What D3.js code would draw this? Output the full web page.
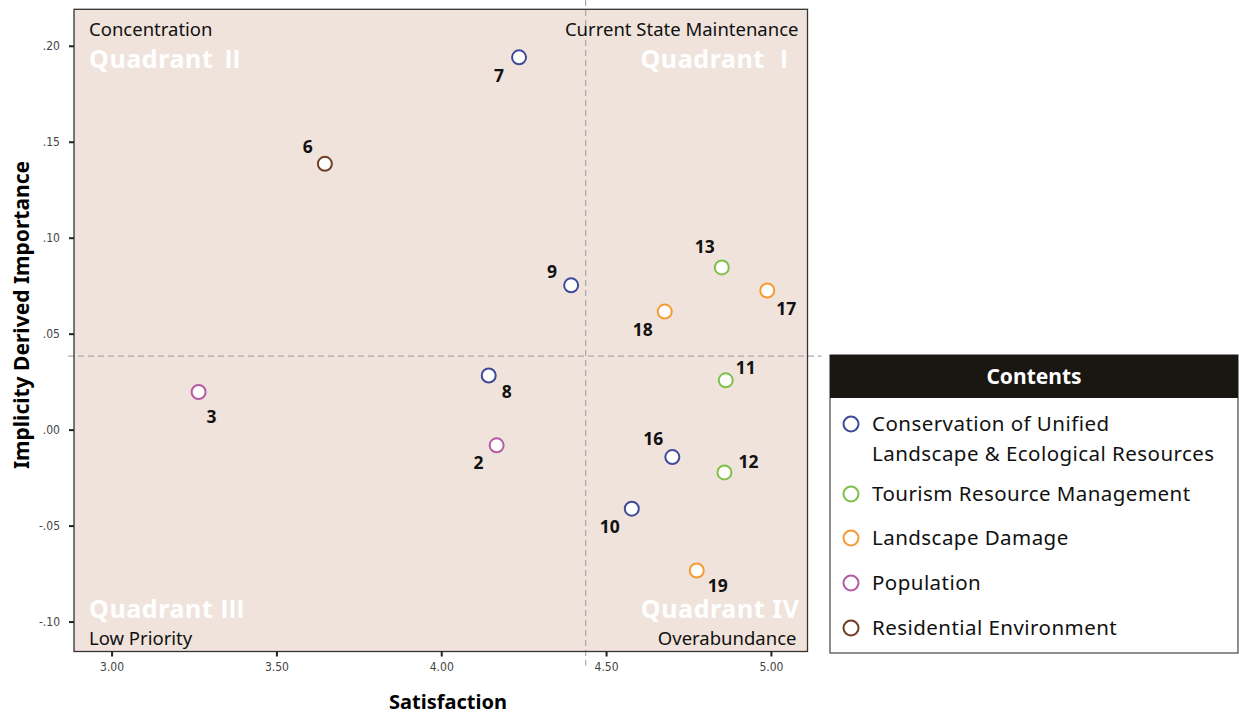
<!DOCTYPE html>
<html lang="en">
<head>
<meta charset="UTF-8">
<title>IPA Matrix</title>
<script src="https://d3js.org/d3.v7.min.js"></script>
<style>
  body { margin: 0; background: #fff; }
  svg { display: block; font-family: "Noto Sans", "Open Sans", sans-serif; }
</style>
</head>
<body>
<svg id="chart"></svg>
<script>
// ---- data ----
const ids        = ["7", "6", "9", "13", "17", "18", "8", "3", "11", "2", "16", "12", "10", "19"];
const satisfaction = [4.236, 3.647, 4.394, 4.851, 4.989, 4.678, 4.144, 3.264, 4.863, 4.168, 4.701, 4.859, 4.578, 4.775];
const importance   = [0.194, 0.1385, 0.0752, 0.0845, 0.0725, 0.0615, 0.0282, 0.0196, 0.0257, -0.0082, -0.0143, -0.0223, -0.0412, -0.0734];
const group        = [0, 4, 0, 1, 2, 2, 0, 3, 1, 3, 0, 1, 0, 2];
const categories   = ["Conservation of Unified|Landscape & Ecological Resources", "Tourism Resource Management", "Landscape Damage", "Population", "Residential Environment"];
const xTicks = [3.0, 3.5, 4.0, 4.5, 5.0];
const yTicks = [0.20, 0.15, 0.10, 0.05, 0.00, -0.05, -0.10];
const meanSatisfaction = 4.438;
const meanImportance = 0.0383;

const colors = ["#3f4a9b", "#7ec04a", "#f49b33", "#b45ca3", "#6e3f22"];
// label placement relative to each point (dx, dy)
const labelOffset = {
  "7": [-20, 18], "6": [-17, -18], "9": [-19, -14], "13": [-17, -21], "17": [19, 18],
  "18": [-22, 17], "8": [18, 15], "3": [13, 24], "11": [20, -13], "2": [-18, 17],
  "16": [-19, -19], "12": [24, -11], "10": [-22, 17], "19": [21, 14]
};

const width = 1239, height = 716;
const plot = { left: 74, right: 807.5, top: 9.3, bottom: 651.5 };

const svg = d3.select("#chart").attr("width", width).attr("height", height);

const x = d3.scaleLinear().domain([2.886, 5.111]).range([plot.left, plot.right]);
const y = d3.scaleLinear().domain([-0.1156, 0.219]).range([plot.bottom, plot.top]);

// plot background
svg.append("rect")
  .attr("x", plot.left).attr("y", plot.top)
  .attr("width", plot.right - plot.left).attr("height", plot.bottom - plot.top)
  .attr("fill", "#f0e3dc");

// mean lines
svg.append("line")
  .attr("x1", x(meanSatisfaction)).attr("x2", x(meanSatisfaction))
  .attr("y1", 0).attr("y2", plot.bottom + 14)
  .attr("stroke", "#aaa").attr("stroke-width", 1.2).attr("stroke-dasharray", "6,4");
svg.append("line")
  .attr("x1", plot.left - 6).attr("x2", plot.right + 14)
  .attr("y1", y(meanImportance)).attr("y2", y(meanImportance))
  .attr("stroke", "#aaa").attr("stroke-width", 1.2).attr("stroke-dasharray", "6,4");

// plot frame
svg.append("rect")
  .attr("x", plot.left).attr("y", plot.top)
  .attr("width", plot.right - plot.left).attr("height", plot.bottom - plot.top)
  .attr("fill", "none").attr("stroke", "#333").attr("stroke-width", 1.3);

// axes
const fmtX = d3.format(".2f");
const fmtY = v => d3.format(".2f")(v).replace("0.", ".").replace("\u2212", "-");

const xAxis = svg.append("g")
  .attr("transform", `translate(0,${plot.bottom})`)
  .call(d3.axisBottom(x).tickValues(xTicks).tickFormat(fmtX).tickSize(5).tickPadding(6));
const yAxis = svg.append("g")
  .attr("transform", `translate(${plot.left},0)`)
  .call(d3.axisLeft(y).tickValues(yTicks).tickFormat(fmtY).tickSize(5).tickPadding(9));

[xAxis, yAxis].forEach(g => {
  g.select(".domain").remove();
  g.selectAll(".tick line").attr("stroke", "#222").attr("stroke-width", 2);
  g.selectAll(".tick text")
    .attr("fill", "#444")
    .style("font-family", "'Liberation Sans Narrow', 'DejaVu Sans Condensed', sans-serif")
    .style("font-size", "12px");
});

// axis titles
svg.append("text")
  .attr("x", 448).attr("y", 709)
  .attr("text-anchor", "middle")
  .style("font-size", "20px").style("font-weight", "bold")
  .text("Satisfaction");
svg.append("text")
  .attr("transform", "translate(29,315) rotate(-90)")
  .attr("text-anchor", "middle")
  .style("font-size", "21px").style("font-weight", "bold")
  .text("Implicity Derived Importance");

// quadrant captions (numeral drawn separately so CJK roman numerals can be used)
const captions = [
  { t: "Concentration", x: plot.left + 15, y: 36, anchor: "start", white: false },
  { t: "Quadrant ", n: "\u2161", x: plot.left + 15, y: 68, anchor: "start", white: true },
  { t: "Current State Maintenance", x: plot.right - 9, y: 36, anchor: "end", white: false },
  { t: "Quadrant ", n: "\u2160", x: plot.right - 11, y: 68, anchor: "end", white: true },
  { t: "Quadrant ", n: "\u2162", x: plot.left + 15, y: 618, anchor: "start", white: true },
  { t: "Low Priority", x: plot.left + 15, y: 645, anchor: "start", white: false },
  { t: "Quadrant IV", x: plot.right - 8, y: 618, anchor: "end", white: true },
  { t: "Overabundance", x: plot.right - 11, y: 645, anchor: "end", white: false }
];
const capText = svg.append("g").selectAll("text")
  .data(captions)
  .join("text")
  .attr("x", d => d.x).attr("y", d => d.y)
  .attr("text-anchor", d => d.anchor)
  .attr("fill", d => d.white ? "#fff" : "#111")
  .style("font-size", d => d.white ? "25px" : "18.5px")
  .style("font-weight", d => d.white ? "bold" : "normal")
  .style("letter-spacing", d => d.white ? "0.6px" : "0px");
capText.append("tspan").text(d => d.t);
capText.filter(d => d.n).append("tspan")
  .style("font-family", "'Noto Sans CJK KR', serif")
  .style("font-size", "24px")
  .text(d => d.n);

// points
const points = ids.map((id, i) => ({ id, sx: satisfaction[i], iy: importance[i], g: group[i] }));

svg.append("g").selectAll("circle")
  .data(points)
  .join("circle")
  .attr("cx", d => x(d.sx)).attr("cy", d => y(d.iy))
  .attr("r", 7)
  .attr("fill", "#fff")
  .attr("stroke", d => colors[d.g])
  .attr("stroke-width", 2);

svg.append("g").selectAll("text")
  .data(points)
  .join("text")
  .attr("x", d => x(d.sx) + labelOffset[d.id][0])
  .attr("y", d => y(d.iy) + labelOffset[d.id][1])
  .attr("text-anchor", "middle")
  .attr("dominant-baseline", "central")
  .attr("fill", "#111")
  .style("font-size", "17.5px").style("font-weight", "bold")
  .text(d => d.id);

// legend
const lg = { x: 830, y: 355, w: 408, h: 298, head: 43 };
const legend = svg.append("g");
legend.append("rect")
  .attr("x", lg.x).attr("y", lg.y).attr("width", lg.w).attr("height", lg.h)
  .attr("fill", "#fff").attr("stroke", "#444").attr("stroke-width", 1.2);
legend.append("rect")
  .attr("x", lg.x).attr("y", lg.y).attr("width", lg.w).attr("height", lg.head)
  .attr("fill", "#1a1612");
legend.append("text")
  .attr("x", lg.x + lg.w / 2).attr("y", lg.y + 29)
  .attr("text-anchor", "middle").attr("fill", "#fff")
  .style("font-size", "21px").style("font-weight", "bold")
  .text("Contents");

const rowY = [424, 494, 538, 583, 628];
const items = legend.selectAll("g.item")
  .data(categories)
  .join("g").attr("class", "item")
  .attr("transform", (d, i) => `translate(0,${rowY[i]})`);
items.append("circle")
  .attr("cx", 851).attr("cy", 0).attr("r", 7.5)
  .attr("fill", "#fff")
  .attr("stroke", (d, i) => colors[i]).attr("stroke-width", 2);
items.each(function(d) {
  const lines = d.split("|");
  const t = d3.select(this).append("text")
    .attr("x", 872).attr("y", 0)
    .attr("fill", "#111")
    .style("font-size", "20.5px")
    .style("letter-spacing", "0.45px");
  lines.forEach((ln, k) => {
    t.append("tspan").attr("x", 872).attr("y", k * 30).attr("dy", "0.35em").text(ln);
  });
});
</script>
</body>
</html>
